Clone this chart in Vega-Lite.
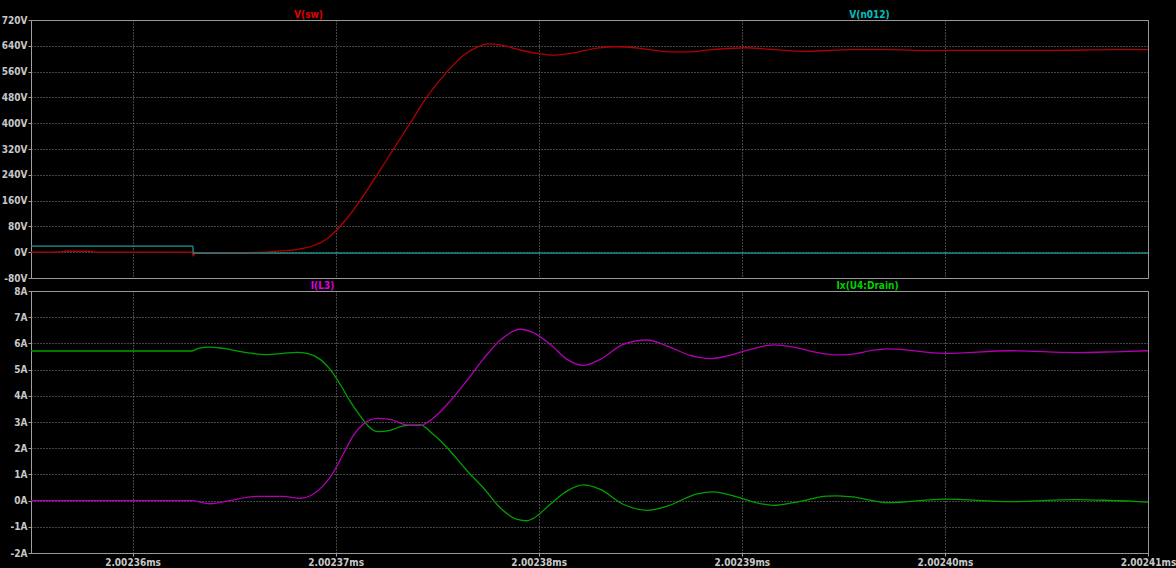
{
  "$schema": "https://vega.github.io/schema/vega-lite/v6.json",
  "background": "#000000",
  "padding": {"left": 0, "top": 8, "right": 6, "bottom": 2},
  "spacing": 13,
  "bounds": "flush",
  "resolve": {"scale": {"color": "independent"}},
  "config": {
    "font": "Liberation Sans Narrow, DejaVu Sans Condensed, sans-serif",
    "view": {"stroke": "#a0a0a0", "strokeWidth": 1, "fill": "#000000"},
    "axis": {
      "labelFont": "Liberation Sans Narrow, DejaVu Sans Condensed, sans-serif",
      "labelFontSize": 10,
      "labelFontWeight": "bold",
      "labelColor": "#c8c8c8",
      "domain": false,
      "tickColor": "#a0a0a0",
      "tickSize": 3,
      "gridColor": "#8a8a8a",
      "gridDash": [1, 2],
      "gridOpacity": 1,
      "gridWidth": 1,
      "labelFlush": false,
      "labelPadding": 1,
      "titleFont": "Liberation Sans Narrow, DejaVu Sans Condensed, sans-serif",
      "titleFontSize": 10,
      "titleFontWeight": "bold"
    },
    "title": {
      "font": "Liberation Sans Narrow, DejaVu Sans Condensed, sans-serif",
      "fontSize": 10,
      "fontWeight": "bold",
      "frame": "group",
      "anchor": "middle",
      "baseline": "alphabetic",
      "offset": -11
    }
  },
  "datasets": {
    "volts": [
      {"t": 2.002355, "v": 0, "s": "V(sw)"},
      {"t": 2.00235643, "v": 1, "s": "V(sw)"},
      {"t": 2.00235667, "v": 3, "s": "V(sw)"},
      {"t": 2.00235791, "v": 3, "s": "V(sw)"},
      {"t": 2.00235815, "v": 0.5, "s": "V(sw)"},
      {"t": 2.00236293, "v": 0, "s": "V(sw)"},
      {"t": 2.00236298, "v": -12, "s": "V(sw)"},
      {"t": 2.00236308, "v": -3, "s": "V(sw)"},
      {"t": 2.0023648, "v": -2, "s": "V(sw)"},
      {"t": 2.00236643, "v": 0, "s": "V(sw)"},
      {"t": 2.00236727, "v": 4, "s": "V(sw)"},
      {"t": 2.00236815, "v": 9, "s": "V(sw)"},
      {"t": 2.00236889, "v": 20, "s": "V(sw)"},
      {"t": 2.00236958, "v": 42, "s": "V(sw)"},
      {"t": 2.00236998, "v": 64, "s": "V(sw)"},
      {"t": 2.00237057, "v": 106, "s": "V(sw)"},
      {"t": 2.00237121, "v": 160, "s": "V(sw)"},
      {"t": 2.00237204, "v": 240, "s": "V(sw)"},
      {"t": 2.00237283, "v": 318, "s": "V(sw)"},
      {"t": 2.00237367, "v": 400, "s": "V(sw)"},
      {"t": 2.00237451, "v": 483, "s": "V(sw)"},
      {"t": 2.00237549, "v": 560, "s": "V(sw)"},
      {"t": 2.00237628, "v": 610, "s": "V(sw)"},
      {"t": 2.00237697, "v": 636, "s": "V(sw)"},
      {"t": 2.00237751, "v": 646, "s": "V(sw)"},
      {"t": 2.0023781, "v": 643, "s": "V(sw)"},
      {"t": 2.00237909, "v": 627, "s": "V(sw)"},
      {"t": 2.00237998, "v": 616, "s": "V(sw)"},
      {"t": 2.00238071, "v": 611, "s": "V(sw)"},
      {"t": 2.0023817, "v": 618, "s": "V(sw)"},
      {"t": 2.00238288, "v": 633, "s": "V(sw)"},
      {"t": 2.00238392, "v": 637, "s": "V(sw)"},
      {"t": 2.0023849, "v": 633, "s": "V(sw)"},
      {"t": 2.00238653, "v": 621, "s": "V(sw)"},
      {"t": 2.00238736, "v": 621, "s": "V(sw)"},
      {"t": 2.00238855, "v": 628, "s": "V(sw)"},
      {"t": 2.00239017, "v": 634, "s": "V(sw)"},
      {"t": 2.0023914, "v": 629, "s": "V(sw)"},
      {"t": 2.00239318, "v": 623, "s": "V(sw)"},
      {"t": 2.00239539, "v": 628, "s": "V(sw)"},
      {"t": 2.00239722, "v": 628, "s": "V(sw)"},
      {"t": 2.00239924, "v": 625, "s": "V(sw)"},
      {"t": 2.00240126, "v": 626, "s": "V(sw)"},
      {"t": 2.0024053, "v": 626, "s": "V(sw)"},
      {"t": 2.00240835, "v": 628, "s": "V(sw)"},
      {"t": 2.00241, "v": 628, "s": "V(sw)"},
      {"t": 2.002355, "v": 19, "s": "V(n012)"},
      {"t": 2.00236297, "v": 19, "s": "V(n012)"},
      {"t": 2.00236299, "v": -3, "s": "V(n012)"},
      {"t": 2.00241, "v": -3, "s": "V(n012)"}
    ],
    "amps": [
      {"t": 2.002355, "i": 5.71, "s": "Ix(U4:Drain)"},
      {"t": 2.00236293, "i": 5.71, "s": "Ix(U4:Drain)"},
      {"t": 2.00236323, "i": 5.81, "s": "Ix(U4:Drain)"},
      {"t": 2.00236382, "i": 5.86, "s": "Ix(U4:Drain)"},
      {"t": 2.00236446, "i": 5.81, "s": "Ix(U4:Drain)"},
      {"t": 2.00236564, "i": 5.65, "s": "Ix(U4:Drain)"},
      {"t": 2.00236663, "i": 5.57, "s": "Ix(U4:Drain)"},
      {"t": 2.00236741, "i": 5.62, "s": "Ix(U4:Drain)"},
      {"t": 2.0023681, "i": 5.66, "s": "Ix(U4:Drain)"},
      {"t": 2.0023686, "i": 5.62, "s": "Ix(U4:Drain)"},
      {"t": 2.00236924, "i": 5.39, "s": "Ix(U4:Drain)"},
      {"t": 2.00236973, "i": 5.01, "s": "Ix(U4:Drain)"},
      {"t": 2.00237022, "i": 4.44, "s": "Ix(U4:Drain)"},
      {"t": 2.00237071, "i": 3.8, "s": "Ix(U4:Drain)"},
      {"t": 2.00237121, "i": 3.23, "s": "Ix(U4:Drain)"},
      {"t": 2.0023716, "i": 2.85, "s": "Ix(U4:Drain)"},
      {"t": 2.00237209, "i": 2.63, "s": "Ix(U4:Drain)"},
      {"t": 2.00237268, "i": 2.68, "s": "Ix(U4:Drain)"},
      {"t": 2.00237333, "i": 2.85, "s": "Ix(U4:Drain)"},
      {"t": 2.00237416, "i": 2.89, "s": "Ix(U4:Drain)"},
      {"t": 2.0023748, "i": 2.53, "s": "Ix(U4:Drain)"},
      {"t": 2.00237549, "i": 2.02, "s": "Ix(U4:Drain)"},
      {"t": 2.00237648, "i": 1.13, "s": "Ix(U4:Drain)"},
      {"t": 2.00237727, "i": 0.49, "s": "Ix(U4:Drain)"},
      {"t": 2.0023781, "i": -0.27, "s": "Ix(U4:Drain)"},
      {"t": 2.00237894, "i": -0.72, "s": "Ix(U4:Drain)"},
      {"t": 2.00237943, "i": -0.77, "s": "Ix(U4:Drain)"},
      {"t": 2.00237973, "i": -0.68, "s": "Ix(U4:Drain)"},
      {"t": 2.00238057, "i": -0.14, "s": "Ix(U4:Drain)"},
      {"t": 2.0023814, "i": 0.37, "s": "Ix(U4:Drain)"},
      {"t": 2.00238219, "i": 0.6, "s": "Ix(U4:Drain)"},
      {"t": 2.00238303, "i": 0.43, "s": "Ix(U4:Drain)"},
      {"t": 2.00238416, "i": -0.14, "s": "Ix(U4:Drain)"},
      {"t": 2.00238534, "i": -0.37, "s": "Ix(U4:Drain)"},
      {"t": 2.00238633, "i": -0.21, "s": "Ix(U4:Drain)"},
      {"t": 2.00238781, "i": 0.26, "s": "Ix(U4:Drain)"},
      {"t": 2.0023886, "i": 0.33, "s": "Ix(U4:Drain)"},
      {"t": 2.00238958, "i": 0.18, "s": "Ix(U4:Drain)"},
      {"t": 2.00239042, "i": -0.02, "s": "Ix(U4:Drain)"},
      {"t": 2.00239155, "i": -0.18, "s": "Ix(U4:Drain)"},
      {"t": 2.00239254, "i": -0.08, "s": "Ix(U4:Drain)"},
      {"t": 2.00239421, "i": 0.17, "s": "Ix(U4:Drain)"},
      {"t": 2.0023947, "i": 0.18, "s": "Ix(U4:Drain)"},
      {"t": 2.00239534, "i": 0.15, "s": "Ix(U4:Drain)"},
      {"t": 2.00239722, "i": -0.08, "s": "Ix(U4:Drain)"},
      {"t": 2.00240002, "i": 0.06, "s": "Ix(U4:Drain)"},
      {"t": 2.00240323, "i": -0.04, "s": "Ix(U4:Drain)"},
      {"t": 2.00240643, "i": 0.04, "s": "Ix(U4:Drain)"},
      {"t": 2.00240835, "i": 0.0, "s": "Ix(U4:Drain)"},
      {"t": 2.00240914, "i": -0.02, "s": "Ix(U4:Drain)"},
      {"t": 2.00241, "i": -0.06, "s": "Ix(U4:Drain)"},
      {"t": 2.002355, "i": 0, "s": "I(L3)"},
      {"t": 2.00236293, "i": 0, "s": "I(L3)"},
      {"t": 2.00236347, "i": -0.08, "s": "I(L3)"},
      {"t": 2.00236382, "i": -0.12, "s": "I(L3)"},
      {"t": 2.00236466, "i": -0.02, "s": "I(L3)"},
      {"t": 2.00236613, "i": 0.16, "s": "I(L3)"},
      {"t": 2.00236741, "i": 0.16, "s": "I(L3)"},
      {"t": 2.00236825, "i": 0.09, "s": "I(L3)"},
      {"t": 2.00236889, "i": 0.24, "s": "I(L3)"},
      {"t": 2.00236938, "i": 0.56, "s": "I(L3)"},
      {"t": 2.00236988, "i": 1.07, "s": "I(L3)"},
      {"t": 2.00237037, "i": 1.77, "s": "I(L3)"},
      {"t": 2.00237086, "i": 2.47, "s": "I(L3)"},
      {"t": 2.00237135, "i": 2.91, "s": "I(L3)"},
      {"t": 2.00237204, "i": 3.14, "s": "I(L3)"},
      {"t": 2.00237268, "i": 3.1, "s": "I(L3)"},
      {"t": 2.00237352, "i": 2.89, "s": "I(L3)"},
      {"t": 2.00237416, "i": 2.87, "s": "I(L3)"},
      {"t": 2.0023748, "i": 3.14, "s": "I(L3)"},
      {"t": 2.00237549, "i": 3.67, "s": "I(L3)"},
      {"t": 2.00237648, "i": 4.6, "s": "I(L3)"},
      {"t": 2.00237727, "i": 5.4, "s": "I(L3)"},
      {"t": 2.0023781, "i": 6.12, "s": "I(L3)"},
      {"t": 2.00237909, "i": 6.54, "s": "I(L3)"},
      {"t": 2.00237973, "i": 6.41, "s": "I(L3)"},
      {"t": 2.00238057, "i": 5.96, "s": "I(L3)"},
      {"t": 2.0023814, "i": 5.39, "s": "I(L3)"},
      {"t": 2.00238219, "i": 5.16, "s": "I(L3)"},
      {"t": 2.00238303, "i": 5.39, "s": "I(L3)"},
      {"t": 2.00238416, "i": 5.96, "s": "I(L3)"},
      {"t": 2.00238534, "i": 6.13, "s": "I(L3)"},
      {"t": 2.00238633, "i": 5.9, "s": "I(L3)"},
      {"t": 2.00238746, "i": 5.54, "s": "I(L3)"},
      {"t": 2.00238845, "i": 5.42, "s": "I(L3)"},
      {"t": 2.00238929, "i": 5.52, "s": "I(L3)"},
      {"t": 2.00239042, "i": 5.77, "s": "I(L3)"},
      {"t": 2.00239155, "i": 5.94, "s": "I(L3)"},
      {"t": 2.00239254, "i": 5.86, "s": "I(L3)"},
      {"t": 2.00239372, "i": 5.65, "s": "I(L3)"},
      {"t": 2.0023947, "i": 5.56, "s": "I(L3)"},
      {"t": 2.00239534, "i": 5.58, "s": "I(L3)"},
      {"t": 2.00239658, "i": 5.75, "s": "I(L3)"},
      {"t": 2.00239722, "i": 5.79, "s": "I(L3)"},
      {"t": 2.00240002, "i": 5.62, "s": "I(L3)"},
      {"t": 2.00240323, "i": 5.72, "s": "I(L3)"},
      {"t": 2.00240643, "i": 5.65, "s": "I(L3)"},
      {"t": 2.00240835, "i": 5.68, "s": "I(L3)"},
      {"t": 2.00241, "i": 5.72, "s": "I(L3)"}
    ]
  },
  "vconcat": [
    {
      "width": 1117,
      "height": 258,
      "data": {"name": "volts"},
      "title": {"text": "V(n012)", "color": "#00c0c0", "dx": 280},
      "mark": {"type": "line", "strokeWidth": 1.3, "interpolate": "monotone"},
      "encoding": {
        "x": {
          "field": "t", "type": "quantitative",
          "scale": {"domain": [2.002355, 2.00241], "nice": false, "zero": false},
          "axis": {"values": [2.00236, 2.00237, 2.00238, 2.00239, 2.0024, 2.00241], "labels": false, "ticks": false, "title": null, "grid": true}
        },
        "y": {
          "field": "v", "type": "quantitative",
          "scale": {"domain": [-80, 720], "nice": false, "zero": false},
          "axis": {
            "values": [-80, 0, 80, 160, 240, 320, 400, 480, 560, 640, 720],
            "labelExpr": "datum.value + 'V'",
            "title": "V(sw)", "titleAngle": 0, "titleX": 277, "titleY": -3,
            "titleAlign": "center", "titleBaseline": "alphabetic", "titleColor": "#e00000"
          }
        },
        "color": {
          "field": "s", "type": "nominal",
          "scale": {"domain": ["V(sw)", "V(n012)"], "range": ["#b00000", "#1e9a9a"]},
          "legend": null
        }
      }
    },
    {
      "width": 1117,
      "height": 262,
      "data": {"name": "amps"},
      "title": {"text": "Ix(U4:Drain)", "color": "#00d000", "dx": 278},
      "mark": {"type": "line", "strokeWidth": 1.3, "interpolate": "monotone"},
      "encoding": {
        "x": {
          "field": "t", "type": "quantitative",
          "scale": {"domain": [2.002355, 2.00241], "nice": false, "zero": false},
          "axis": {"values": [2.00236, 2.00237, 2.00238, 2.00239, 2.0024, 2.00241], "labelExpr": "format(datum.value, '.5f') + 'ms'", "title": null, "grid": true}
        },
        "y": {
          "field": "i", "type": "quantitative",
          "scale": {"domain": [-2, 8], "nice": false, "zero": false},
          "axis": {
            "values": [-2, -1, 0, 1, 2, 3, 4, 5, 6, 7, 8],
            "labelExpr": "datum.value + 'A'",
            "title": "I(L3)", "titleAngle": 0, "titleX": 291, "titleY": -3,
            "titleAlign": "center", "titleBaseline": "alphabetic", "titleColor": "#e000e0"
          }
        },
        "color": {
          "field": "s", "type": "nominal",
          "scale": {"domain": ["Ix(U4:Drain)", "I(L3)"], "range": ["#00a000", "#b000b0"]},
          "legend": null
        }
      }
    }
  ]
}
